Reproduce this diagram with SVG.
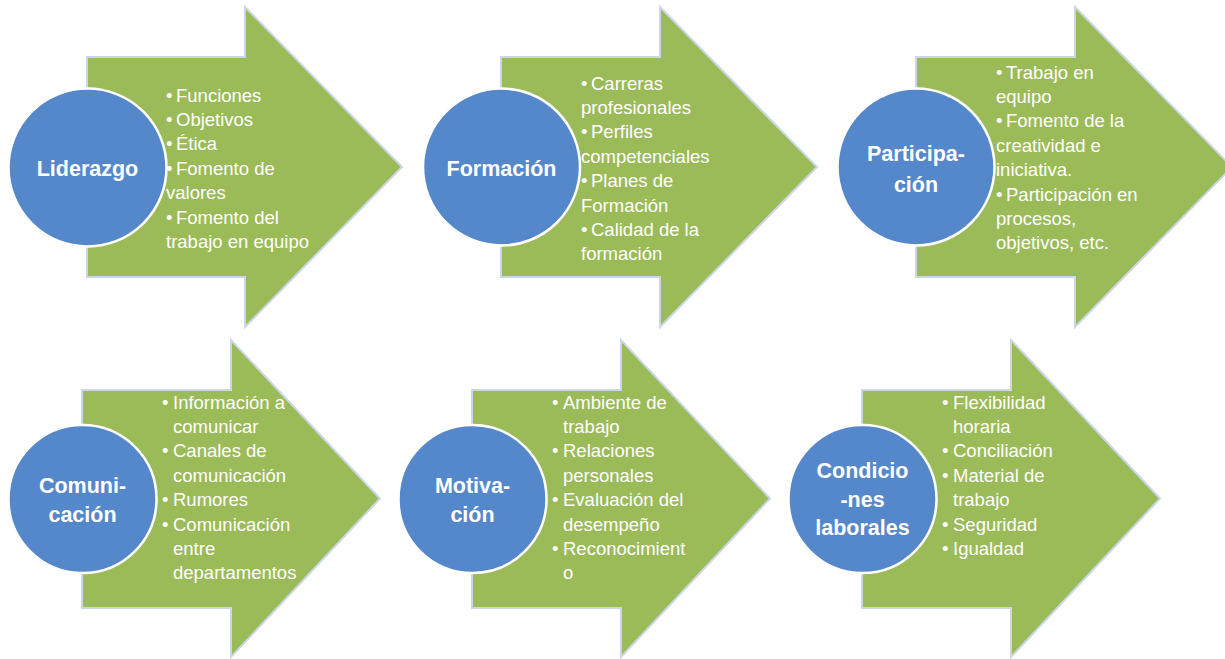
<svg xmlns="http://www.w3.org/2000/svg" width="1225" height="659" viewBox="0 0 1225 659">
<style>
.arrow{fill:#9bbb59;stroke:#cbd6e9;stroke-width:2;stroke-linejoin:miter}
.circ{fill:#5588cb;stroke:#ffffff;stroke-width:2.5}
.lbl{font-family:"Liberation Sans",Arial,sans-serif;font-weight:bold;font-size:21.5px;fill:#ffffff;text-anchor:middle}
.it{font-family:"Liberation Sans",Arial,sans-serif;font-size:18.5px;fill:#ffffff}
</style>
<rect width="1225" height="659" fill="#ffffff"/>
<g id="connectors"></g>

<g id="liderazgo">
<path class="arrow" d="M87,57 H245 V7 L402,167 L245,327 V277 H87 Z"/>
<circle class="circ" cx="87.5" cy="167.5" r="79"/>
<text class="lbl" x="87.5" y="175.5">Liderazgo</text>
<text class="it">
<tspan x="166" y="101.5">•</tspan><tspan x="176" y="101.5">Funciones</tspan>
<tspan x="166" y="125.9">•</tspan><tspan x="176" y="125.9">Objetivos</tspan>
<tspan x="166" y="150.3">•</tspan><tspan x="176" y="150.3">Ética</tspan>
<tspan x="166" y="174.7">•</tspan><tspan x="176" y="174.7">Fomento de</tspan>
<tspan x="166" y="199.1">valores</tspan>
<tspan x="166" y="223.5">•</tspan><tspan x="176" y="223.5">Fomento del</tspan>
<tspan x="166" y="247.9">trabajo en equipo</tspan>
</text>
</g>

<g id="formacion">
<path class="arrow" d="M501,57 H660 V7 L817,167 L660,327 V277 H501 Z"/>
<circle class="circ" cx="501.5" cy="167" r="78.5"/>
<text class="lbl" x="501.5" y="175.5">Formación</text>
<text class="it">
<tspan x="581" y="89.5">•</tspan><tspan x="591" y="89.5">Carreras</tspan>
<tspan x="581" y="113.9">profesionales</tspan>
<tspan x="581" y="138.3">•</tspan><tspan x="591" y="138.3">Perfiles</tspan>
<tspan x="581" y="162.7">competenciales</tspan>
<tspan x="581" y="187.1">•</tspan><tspan x="591" y="187.1">Planes de</tspan>
<tspan x="581" y="211.5">Formación</tspan>
<tspan x="581" y="235.9">•</tspan><tspan x="591" y="235.9">Calidad de la</tspan>
<tspan x="581" y="260.3">formación</tspan>
</text>
</g>

<g id="participacion">
<path class="arrow" d="M916,57 H1075 V7 L1232,167 L1075,327 V277 H916 Z"/>
<circle class="circ" cx="916" cy="167" r="78.5"/>
<text class="lbl" x="916" y="161">Participa-</text>
<text class="lbl" x="916" y="191.5">ción</text>
<text class="it">
<tspan x="996" y="78.5">•</tspan><tspan x="1006" y="78.5">Trabajo en</tspan>
<tspan x="996" y="102.9">equipo</tspan>
<tspan x="996" y="127.3">•</tspan><tspan x="1006" y="127.3">Fomento de la</tspan>
<tspan x="996" y="151.7">creatividad e</tspan>
<tspan x="996" y="176.1">iniciativa.</tspan>
<tspan x="996" y="200.5">•</tspan><tspan x="1006" y="200.5">Participación en</tspan>
<tspan x="996" y="224.9">procesos,</tspan>
<tspan x="996" y="249.3">objetivos, etc.</tspan>
</text>
</g>

<g id="comunicacion">
<path class="arrow" d="M82,390 H231 V340 L380,498.5 L231,657 V608 H82 Z"/>
<circle class="circ" cx="82.5" cy="499" r="74"/>
<text class="lbl" x="82.5" y="492.5">Comuni-</text>
<text class="lbl" x="82.5" y="521.5">cación</text>
<text class="it">
<tspan x="162" y="408.5">•</tspan><tspan x="173" y="408.5">Información a</tspan>
<tspan x="173" y="432.9">comunicar</tspan>
<tspan x="162" y="457.3">•</tspan><tspan x="173" y="457.3">Canales de</tspan>
<tspan x="173" y="481.7">comunicación</tspan>
<tspan x="162" y="506.1">•</tspan><tspan x="173" y="506.1">Rumores</tspan>
<tspan x="162" y="530.5">•</tspan><tspan x="173" y="530.5">Comunicación</tspan>
<tspan x="173" y="554.9">entre</tspan>
<tspan x="173" y="579.3">departamentos</tspan>
</text>
</g>

<g id="motivacion">
<path class="arrow" d="M472,390 H621 V340 L770,498.5 L621,657 V608 H472 Z"/>
<circle class="circ" cx="472.5" cy="499" r="74"/>
<text class="lbl" x="472.5" y="492.5">Motiva-</text>
<text class="lbl" x="472.5" y="521.5">ción</text>
<text class="it">
<tspan x="552" y="408.5">•</tspan><tspan x="563" y="408.5">Ambiente de</tspan>
<tspan x="563" y="432.9">trabajo</tspan>
<tspan x="552" y="457.3">•</tspan><tspan x="563" y="457.3">Relaciones</tspan>
<tspan x="563" y="481.7">personales</tspan>
<tspan x="552" y="506.1">•</tspan><tspan x="563" y="506.1">Evaluación del</tspan>
<tspan x="563" y="530.5">desempeño</tspan>
<tspan x="552" y="554.9">•</tspan><tspan x="563" y="554.9">Reconocimient</tspan>
<tspan x="563" y="579.3">o</tspan>
</text>
</g>

<g id="condiciones">
<path class="arrow" d="M862,390 H1011 V340 L1160,498.5 L1011,657 V608 H862 Z"/>
<circle class="circ" cx="862.5" cy="499" r="74"/>
<text class="lbl" x="862.5" y="478">Condicio</text>
<text class="lbl" x="862.5" y="506.5">-nes</text>
<text class="lbl" x="862.5" y="535">laborales</text>
<text class="it">
<tspan x="942" y="408.5">•</tspan><tspan x="953" y="408.5">Flexibilidad</tspan>
<tspan x="953" y="432.9">horaria</tspan>
<tspan x="942" y="457.3">•</tspan><tspan x="953" y="457.3">Conciliación</tspan>
<tspan x="942" y="481.7">•</tspan><tspan x="953" y="481.7">Material de</tspan>
<tspan x="953" y="506.1">trabajo</tspan>
<tspan x="942" y="530.5">•</tspan><tspan x="953" y="530.5">Seguridad</tspan>
<tspan x="942" y="554.9">•</tspan><tspan x="953" y="554.9">Igualdad</tspan>
</text>
</g>
</svg>
